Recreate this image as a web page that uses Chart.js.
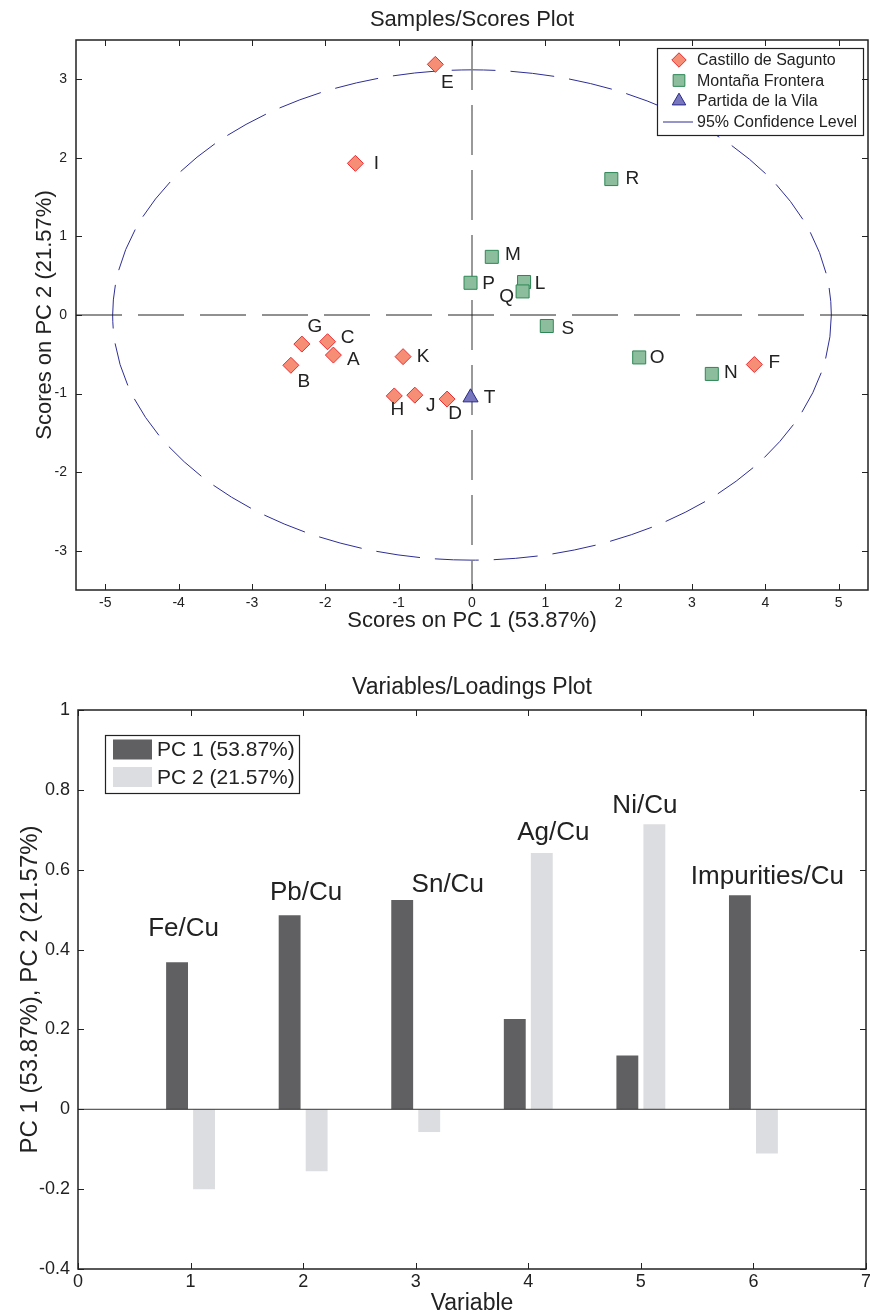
<!DOCTYPE html>
<html lang="en">
<head>
<meta charset="UTF-8">
<title>Samples/Scores and Variables/Loadings</title>
<script src="https://cdn.jsdelivr.net/npm/chart.js@4.4.0/dist/chart.umd.min.js"></script>
<style>
  html, body { margin: 0; padding: 0; background: #fff; }
  canvas { display: block; }
</style>
</head>
<body>
<canvas id="scores" width="870" height="645"></canvas>
<canvas id="loadings" width="870" height="671"></canvas>
<script>
const FONT = "'Liberation Sans', Arial, Helvetica, sans-serif";
const INK = '#222';

// ---- scores (top plot) ----
const sagNames = ['A', 'B', 'C', 'D', 'E', 'F', 'G', 'H', 'I', 'J', 'K'];
const sagPC1 = [-1.89, -2.47, -1.97, -0.34, -0.50, 3.85, -2.32, -1.06, -1.59, -0.78, -0.94];
const sagPC2 = [-0.51, -0.64, -0.34, -1.07, 3.19, -0.63, -0.37, -1.03, 1.93, -1.02, -0.53];

const monNames = ['L', 'M', 'N', 'O', 'P', 'Q', 'R', 'S'];
const monPC1 = [0.71, 0.27, 3.27, 2.28, -0.02, 0.69, 1.90, 1.02];
const monPC2 = [0.42, 0.74, -0.75, -0.54, 0.41, 0.30, 1.73, -0.14];

const parNames = ['T'];
const parPC1 = [-0.02];
const parPC2 = [-1.05];

const scoreXTicks = [-5, -4, -3, -2, -1, 0, 1, 2, 3, 4, 5];
const scoreYTicks = [-3, -2, -1, 0, 1, 2, 3];
const scoreXRange = [-5.4, 5.4];
const scoreYRange = [-3.5, 3.5];
const confLimit = [4.9, 3.12];   // 95% ellipse semi-axes (PC1, PC2)

// ---- loadings (bottom plot) ----
const variables = [1, 2, 3, 4, 5, 6];
const varNames = ['Fe/Cu', 'Pb/Cu', 'Sn/Cu', 'Ag/Cu', 'Ni/Cu', 'Impurities/Cu'];
const pc1Load = [0.368, 0.486, 0.524, 0.226, 0.135, 0.536];
const pc2Load = [-0.200, -0.155, -0.057, 0.642, 0.714, -0.111];
const loadXTicks = [0, 1, 2, 3, 4, 5, 6, 7];
const loadYTicks = [-0.4, -0.2, 0, 0.2, 0.4, 0.6, 0.8, 1];

// where the letters sit next to their marker (px, centre of text)
const nameShift = {
  A: [20, 5], B: [13, 16], C: [20, -4], D: [8, 15], E: [12, 18], F: [20, -2],
  G: [13, -17], H: [3, 14], I: [21, 0], J: [16, 11], K: [20, 0],
  L: [16, 2], M: [21, -2], N: [19, -1], O: [18, 0], P: [18, 1], Q: [-16, 5],
  R: [21, 0], S: [21, 3], T: [19, 0]
};
// variable names above the bars: [dx from group centre, px above highest bar]
const varShift = [[-7, 34], [3, 22], [32, 15], [25, 20], [4, 18], [14, 18]];

const pts = (xs, ys) => xs.map((x, i) => ({ x: x, y: ys[i] }));
const fixTicks = vals => s => { s.ticks = vals.map(v => ({ value: v })); };
// fixed axis box, no automatic label padding
const fitX = hgt => s => { s.height = hgt; s.paddingLeft = 0; s.paddingRight = 0; };
const fitY = wid => s => { s.width = wid; s.paddingTop = 0; s.paddingBottom = 0; };

const sagStyle = { pointStyle: 'rectRot', radius: 8, fill: 'rgb(246,142,118)', line: 'rgb(232,45,50)' };
const monStyle = { pointStyle: 'rect', radius: 9.2, fill: 'rgb(140,190,158)', line: 'rgb(45,135,85)' };
const parStyle = { pointStyle: 'triangle', radius: 8.7, fill: 'rgb(120,118,188)', line: 'rgb(40,40,140)' };
const ellColor = 'rgb(45,45,150)';

// frame with inward ticks + title
function framePlugin(title, titleGap, tickLen) {
  return {
    id: 'frame',
    afterDraw(chart) {
      const { ctx, chartArea: a, scales: { x, y } } = chart;
      ctx.save();
      ctx.strokeStyle = INK;
      ctx.lineWidth = 1;
      ctx.beginPath();
      x.ticks.forEach(t => {
        const p = Math.round(x.getPixelForValue(t.value)) + 0.5;
        ctx.moveTo(p, a.bottom); ctx.lineTo(p, a.bottom - tickLen);
        ctx.moveTo(p, a.top); ctx.lineTo(p, a.top + tickLen);
      });
      y.ticks.forEach(t => {
        const p = Math.round(y.getPixelForValue(t.value)) + 0.5;
        ctx.moveTo(a.left, p); ctx.lineTo(a.left + tickLen, p);
        ctx.moveTo(a.right, p); ctx.lineTo(a.right - tickLen, p);
      });
      ctx.stroke();
      ctx.lineWidth = 1.5;
      ctx.strokeRect(a.left, a.top, a.right - a.left, a.bottom - a.top);
      ctx.fillStyle = INK;
      ctx.font = titleGap.size + 'px ' + FONT;
      ctx.textAlign = 'center';
      ctx.textBaseline = 'middle';
      ctx.fillText(title, (a.left + a.right) / 2, a.top - titleGap.gap);
      ctx.restore();
    }
  };
}

const scoreExtras = {
  id: 'scoreExtras',
  beforeDatasetsDraw(chart) {
    const { ctx, chartArea: a, scales: { x, y } } = chart;
    const cx = x.getPixelForValue(0), cy = y.getPixelForValue(0);
    const rx = x.getPixelForValue(confLimit[0]) - cx;
    const ry = cy - y.getPixelForValue(confLimit[1]);
    ctx.save();
    ctx.beginPath();
    ctx.rect(a.left, a.top, a.right - a.left, a.bottom - a.top);
    ctx.clip();
    ctx.strokeStyle = ellColor;
    ctx.lineWidth = 1;
    ctx.setLineDash([44, 15]);
    ctx.beginPath();
    ctx.ellipse(cx, cy, rx, ry, 0, 0, Math.PI * 2);
    ctx.stroke();
    ctx.restore();
  },
  afterDatasetsDraw(chart) {
    const { ctx, chartArea: a } = chart;
    ctx.save();
    ctx.font = '19px ' + FONT;
    ctx.fillStyle = INK;
    ctx.textAlign = 'center';
    ctx.textBaseline = 'middle';
    chart.data.datasets.forEach((ds, di) => {
      if (!ds.names) return;
      chart.getDatasetMeta(di).data.forEach((el, i) => {
        const n = ds.names[i];
        const s = nameShift[n] || [18, 0];
        ctx.fillText(n, el.x + s[0], el.y + s[1]);
      });
    });
    // legend box, top right
    const w = 206, h = 87;
    const L = a.right - w - 5, T = a.top + 8;
    ctx.fillStyle = '#fff';
    ctx.fillRect(L, T, w, h);
    ctx.strokeStyle = INK;
    ctx.lineWidth = 1.2;
    ctx.strokeRect(L + 0.5, T + 0.5, w, h);
    const rows = [
      ['Castillo de Sagunto', sagStyle],
      ['Montaña Frontera', monStyle],
      ['Partida de la Vila', parStyle],
      ['95% Confidence Level', null]
    ];
    ctx.font = '16px ' + FONT;
    ctx.textAlign = 'left';
    rows.forEach((r, i) => {
      const yy = T + 12 + i * 20.5;
      if (r[1]) {
        ctx.fillStyle = r[1].fill;
        ctx.strokeStyle = r[1].line;
        ctx.lineWidth = 1;
        Chart.helpers.drawPoint(ctx, { pointStyle: r[1].pointStyle, radius: r[1].radius * 0.9, borderWidth: 1, rotation: 0 }, L + 22, yy);
      } else {
        ctx.strokeStyle = ellColor;
        ctx.lineWidth = 1;
        ctx.beginPath();
        ctx.moveTo(L + 6, yy + 0.5);
        ctx.lineTo(L + 36, yy + 0.5);
        ctx.stroke();
      }
      ctx.fillStyle = INK;
      ctx.fillText(r[0], L + 40, yy + 1);
    });
    ctx.restore();
  }
};

function markerSet(label, names, xs, ys, st) {
  return {
    label: label, names: names, data: pts(xs, ys),
    pointStyle: st.pointStyle, pointRadius: st.radius,
    backgroundColor: st.fill, borderColor: st.line, borderWidth: 1,
    order: 0
  };
}

new Chart(document.getElementById('scores'), {
  type: 'scatter',
  data: {
    datasets: [
      {
        type: 'line', label: 'h0', data: [{ x: scoreXRange[0], y: 0 }, { x: scoreXRange[1], y: 0 }],
        borderColor: INK, borderWidth: 1, borderDash: [46, 16], pointRadius: 0, order: 2
      },
      {
        type: 'line', label: 'v0', data: [{ x: 0, y: scoreYRange[1] }, { x: 0, y: scoreYRange[0] }],
        borderColor: '#808080', borderWidth: 1.6, borderDash: [50, 15], pointRadius: 0, order: 2
      },
      markerSet('Castillo de Sagunto', sagNames, sagPC1, sagPC2, sagStyle),
      markerSet('Montaña Frontera', monNames, monPC1, monPC2, monStyle),
      markerSet('Partida de la Vila', parNames, parPC1, parPC2, parStyle)
    ]
  },
  options: {
    responsive: false,
    animation: false,
    events: [],
    layout: { autoPadding: false, padding: { top: 40, right: 2, left: 0, bottom: 0 } },
    plugins: { legend: { display: false }, tooltip: { enabled: false }, title: { display: false } },
    scales: {
      x: {
        type: 'linear', min: scoreXRange[0], max: scoreXRange[1],
        afterBuildTicks: fixTicks(scoreXTicks),
        afterFit: fitX(55),
        grid: { display: false, drawTicks: false }, border: { display: false },
        ticks: { autoSkip: false, maxRotation: 0, padding: 5, color: INK, font: { family: FONT, size: 14 }, callback: v => String(v) },
        title: { display: true, text: 'Scores on PC 1 (53.87%)', color: INK, font: { family: FONT, size: 22 }, padding: { top: 0, bottom: 11 } }
      },
      y: {
        type: 'linear', min: scoreYRange[0], max: scoreYRange[1],
        afterBuildTicks: fixTicks(scoreYTicks),
        afterFit: fitY(76),
        grid: { display: false, drawTicks: false }, border: { display: false },
        ticks: { autoSkip: false, padding: 9, color: INK, font: { family: FONT, size: 14 }, callback: v => String(v) },
        title: { display: true, text: 'Scores on PC 2 (21.57%)', color: INK, font: { family: FONT, size: 22 }, padding: { top: 32, bottom: 0 } }
      }
    }
  },
  plugins: [scoreExtras, framePlugin('Samples/Scores Plot', { size: 22, gap: 20 }, 6)]
});

const loadExtras = {
  id: 'loadExtras',
  afterDatasetsDraw(chart) {
    const { ctx, chartArea: a, scales: { x, y } } = chart;
    ctx.save();
    ctx.font = '26px ' + FONT;
    ctx.fillStyle = INK;
    ctx.textAlign = 'center';
    ctx.textBaseline = 'middle';
    varNames.forEach((n, i) => {
      const top = Math.max(pc1Load[i], pc2Load[i]);
      ctx.fillText(n, x.getPixelForValue(variables[i]) + varShift[i][0], y.getPixelForValue(top) - varShift[i][1]);
    });
    // legend box, top left
    const L = a.left + 27, T = a.top + 25, w = 194, h = 58;
    ctx.fillStyle = '#fff';
    ctx.fillRect(L, T, w, h);
    ctx.strokeStyle = INK;
    ctx.lineWidth = 1.2;
    ctx.strokeRect(L + 0.5, T + 0.5, w, h);
    ctx.font = '21px ' + FONT;
    ctx.textAlign = 'left';
    chart.data.datasets.slice(0, 2).forEach((ds, i) => {
      const yy = T + 14.5 + i * 27.5;
      ctx.fillStyle = ds.backgroundColor;
      ctx.fillRect(L + 8, yy - 10, 39, 20);
      ctx.fillStyle = INK;
      ctx.fillText(ds.label, L + 52, yy + 1);
    });
    ctx.restore();
  }
};

new Chart(document.getElementById('loadings'), {
  type: 'bar',
  data: {
    datasets: [
      { label: 'PC 1 (53.87%)', data: pts(variables, pc1Load), backgroundColor: '#606063', categoryPercentage: 0.48, barPercentage: 0.81, order: 1 },
      { label: 'PC 2 (21.57%)', data: pts(variables, pc2Load), backgroundColor: '#dcdde0', categoryPercentage: 0.48, barPercentage: 0.81, order: 1 },
      { type: 'line', label: 'baseline', data: [{ x: loadXTicks[0], y: 0 }, { x: loadXTicks[loadXTicks.length - 1], y: 0 }], borderColor: '#333', borderWidth: 1, pointRadius: 0, order: 0 }
    ]
  },
  options: {
    responsive: false,
    animation: false,
    events: [],
    layout: { autoPadding: false, padding: { top: 65, right: 4, left: 0, bottom: 0 } },
    plugins: { legend: { display: false }, tooltip: { enabled: false }, title: { display: false } },
    scales: {
      x: {
        type: 'linear', min: 0, max: 7, offset: false,
        afterBuildTicks: fixTicks(loadXTicks),
        afterFit: fitX(47),
        grid: { display: false, offset: false, drawTicks: false }, border: { display: false },
        ticks: { autoSkip: false, maxRotation: 0, padding: 2, color: INK, font: { family: FONT, size: 18 }, callback: v => String(v) },
        title: { display: true, text: 'Variable', color: INK, font: { family: FONT, size: 23, lineHeight: 1.1 }, padding: { top: 0, bottom: 0 } }
      },
      y: {
        type: 'linear', min: -0.4, max: 1,
        afterBuildTicks: fixTicks(loadYTicks),
        afterFit: fitY(78),
        grid: { display: false, drawTicks: false }, border: { display: false },
        ticks: { autoSkip: false, padding: 8, color: INK, font: { family: FONT, size: 18 }, callback: v => String(Math.round(v * 10) / 10) },
        title: { display: true, text: 'PC 1 (53.87%), PC 2 (21.57%)', color: INK, font: { family: FONT, size: 24 }, padding: { top: 16, bottom: 0 } }
      }
    }
  },
  plugins: [loadExtras, framePlugin('Variables/Loadings Plot', { size: 23, gap: 22 }, 6)]
});
</script>
</body>
</html>
